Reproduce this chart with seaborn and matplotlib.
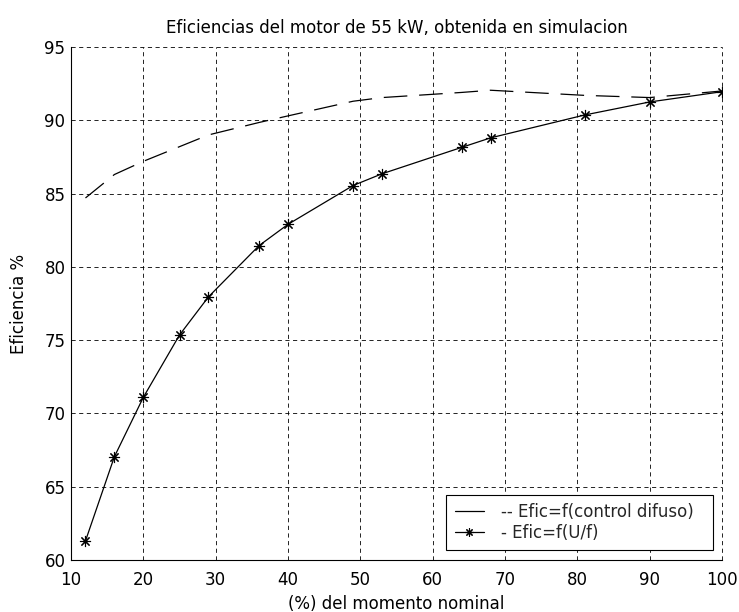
import matplotlib
matplotlib.use('Agg')
import matplotlib.pyplot as plt
import seaborn as sns
import pandas as pd
from matplotlib.lines import Line2D

# ---- data ----
x_momento = [12, 16, 20, 25, 29, 36, 40, 49, 53, 64, 68, 81, 90, 100]
efic_uf = [61.3, 67.05, 71.1, 75.35, 77.95, 81.45, 82.9, 85.55, 86.35, 88.15, 88.8, 90.36, 91.25, 91.95]
efic_difuso = [84.7, 86.3, 87.2, 88.2, 89.0, 89.85, 90.3, 91.3, 91.55, 91.9, 92.05, 91.7, 91.55, 92.0]
x_ticks = [10, 20, 30, 40, 50, 60, 70, 80, 90, 100]
y_ticks = [60, 65, 70, 75, 80, 85, 90, 95]
labels = ['-- Efic=f(control difuso)  ', '- Efic=f(U/f)']

sns.set_theme(style='white')
plt.rcParams['font.family'] = ['DejaVu Sans']
plt.rcParams['lines.scale_dashes'] = False

fig = plt.figure(figsize=(7.39, 6.12), dpi=100)
ax = fig.add_axes([71/739, 1-560/612, 651/739, 513/612])

df_dif = pd.DataFrame({'x': x_momento, 'y': efic_difuso})
df_uf = pd.DataFrame({'x': x_momento, 'y': efic_uf})

sns.lineplot(data=df_dif, x='x', y='y', ax=ax, color='black', linewidth=0.9,
             linestyle=(0, (17, 8.5)), estimator=None, sort=False)
sns.lineplot(data=df_uf, x='x', y='y', ax=ax, color='black', linewidth=0.9,
             marker=(8, 2, 0), markersize=8, markeredgewidth=0.8,
             markeredgecolor='black', markerfacecolor='black',
             estimator=None, sort=False)

ax.set_xlim(10, 100)
ax.set_ylim(60, 95)
ax.set_xticks(x_ticks)
ax.set_yticks(y_ticks)
ax.tick_params(direction='in', length=4.5, width=0.75, colors='black',
               labelsize=12, top=False, right=False)
ax.tick_params(axis='x', pad=8)
ax.tick_params(axis='y', pad=4)

for s in ['left', 'bottom']:
    ax.spines[s].set_visible(True)
    ax.spines[s].set_color('black')
    ax.spines[s].set_linewidth(0.8)
for s in ['top', 'right']:
    ax.spines[s].set_visible(False)

ax.grid(True, color='black', linestyle=(0, (3, 2.5)), linewidth=0.6)

ax.set_title('Eficiencias del motor de 55 kW, obtenida en simulacion',
             fontsize=12, pad=10, color='black')
ax.set_xlabel('(%) del momento nominal', fontsize=12, labelpad=4, color='black')
ax.set_ylabel('Eficiencia %', fontsize=12, labelpad=12, color='black')

handles = [Line2D([0], [0], color='black', lw=0.9),
           Line2D([0], [0], color='black', lw=0.9, marker=(8, 2, 0),
                  markersize=6, markeredgewidth=0.8)]
leg = ax.legend(handles, labels, loc='lower right', bbox_to_anchor=(0.986, 0.0195),
                borderaxespad=0, frameon=True, fancybox=False, edgecolor='black',
                framealpha=1, fontsize=12, handlelength=1.75, handletextpad=1.05,
                borderpad=0.5, labelspacing=0.15, numpoints=1)
leg.get_frame().set_linewidth(0.8)

fig.canvas.draw()
for gl in ax.get_xgridlines() + ax.get_ygridlines():
    gl.set_clip_on(False)

fig.savefig('out.png', dpi=100)
